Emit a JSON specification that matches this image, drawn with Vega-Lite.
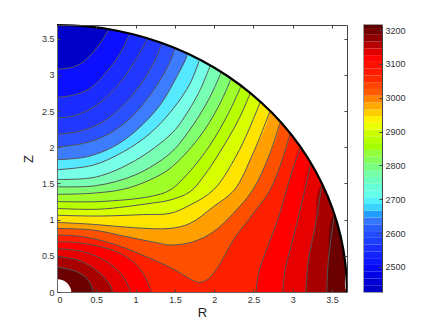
{"background":"white","padding":{"left":22,"top":20,"right":0,"bottom":0},"spacing":11,"config":{"view":{"stroke":null},"font":"Liberation Sans","axis":{"labelFont":"Liberation Sans","titleFont":"Liberation Sans","labelFontSize":9,"titleFontSize":13,"labelColor":"#333333","titleColor":"#222222","titleFontWeight":"normal","grid":false,"domainColor":"#666666","tickColor":"#444444","tickSize":-3,"labelPadding":6}},"datasets":{"regions":[
{"c":"c16","i":0,"R":0,"Z":0.787,"e":1},{"c":"c16","i":1,"R":0.335,"Z":0.764,"e":1},{"c":"c16","i":2,"R":0.759,"Z":0.649,"e":1},{"c":"c16","i":3,"R":1.184,"Z":0.465,"e":1},{"c":"c16","i":4,"R":1.438,"Z":0.341,"e":1},{"c":"c16","i":5,"R":1.608,"Z":0.235,"e":1},{"c":"c16","i":6,"R":1.735,"Z":0.157,"e":1},{"c":"c16","i":7,"R":1.82,"Z":0.134,"e":1},{"c":"c16","i":8,"R":1.905,"Z":0.166,"e":1},{"c":"c16","i":9,"R":1.99,"Z":0.258,"e":1},{"c":"c16","i":10,"R":2.075,"Z":0.39,"e":1},{"c":"c16","i":11,"R":2.244,"Z":0.718,"e":1},{"c":"c16","i":12,"R":2.499,"Z":1.087,"e":1},{"c":"c16","i":13,"R":2.711,"Z":1.409,"e":1},{"c":"c16","i":14,"R":2.864,"Z":1.823,"e":1},{"c":"c16","i":15,"R":2.966,"Z":2.192,"e":1},{"c":"c16","i":16,"R":2.966,"Z":3.9},{"c":"c16","i":17,"R":0,"Z":3.9},
{"c":"c15","i":0,"R":0,"Z":0.879,"e":1},{"c":"c15","i":1,"R":0.462,"Z":0.856,"e":1},{"c":"c15","i":2,"R":0.887,"Z":0.764,"e":1},{"c":"c15","i":3,"R":1.269,"Z":0.681,"e":1},{"c":"c15","i":4,"R":1.438,"Z":0.649,"e":1},{"c":"c15","i":5,"R":1.735,"Z":0.695,"e":1},{"c":"c15","i":6,"R":1.99,"Z":0.833,"e":1},{"c":"c15","i":7,"R":2.244,"Z":1.087,"e":1},{"c":"c15","i":8,"R":2.49,"Z":1.409,"e":1},{"c":"c15","i":9,"R":2.69,"Z":1.86,"e":1},{"c":"c15","i":10,"R":2.838,"Z":2.343,"e":1},{"c":"c15","i":11,"R":2.838,"Z":3.9},{"c":"c15","i":12,"R":0,"Z":3.9},
{"c":"c14","i":0,"R":0,"Z":0.962,"e":1},{"c":"c14","i":1,"R":0.462,"Z":0.935,"e":1},{"c":"c14","i":2,"R":0.972,"Z":0.889,"e":1},{"c":"c14","i":3,"R":1.438,"Z":0.879,"e":1},{"c":"c14","i":4,"R":1.693,"Z":0.948,"e":1},{"c":"c14","i":5,"R":1.99,"Z":1.179,"e":1},{"c":"c14","i":6,"R":2.255,"Z":1.409,"e":1},{"c":"c14","i":7,"R":2.5,"Z":1.93,"e":1},{"c":"c14","i":8,"R":2.707,"Z":2.491,"e":1},{"c":"c14","i":9,"R":2.707,"Z":3.9},{"c":"c14","i":10,"R":0,"Z":3.9},
{"c":"c13","i":0,"R":0,"Z":1.06,"e":1},{"c":"c13","i":1,"R":0.547,"Z":1.05,"e":1},{"c":"c13","i":2,"R":1.1,"Z":1.07,"e":1},{"c":"c13","i":3,"R":1.438,"Z":1.087,"e":1},{"c":"c13","i":4,"R":1.693,"Z":1.202,"e":1},{"c":"c13","i":5,"R":2.0,"Z":1.42,"e":1},{"c":"c13","i":6,"R":2.28,"Z":1.88,"e":1},{"c":"c13","i":7,"R":2.44,"Z":2.24,"e":1},{"c":"c13","i":8,"R":2.584,"Z":2.62,"e":1},{"c":"c13","i":9,"R":2.584,"Z":3.9},{"c":"c13","i":10,"R":0,"Z":3.9},
{"c":"c12","i":0,"R":0,"Z":1.155,"e":1},{"c":"c12","i":1,"R":0.547,"Z":1.145,"e":1},{"c":"c12","i":2,"R":1.184,"Z":1.225,"e":1},{"c":"c12","i":3,"R":1.438,"Z":1.271,"e":1},{"c":"c12","i":4,"R":1.693,"Z":1.386,"e":1},{"c":"c12","i":5,"R":1.88,"Z":1.62,"e":1},{"c":"c12","i":6,"R":2.075,"Z":1.938,"e":1},{"c":"c12","i":7,"R":2.308,"Z":2.376,"e":1},{"c":"c12","i":8,"R":2.457,"Z":2.744,"e":1},{"c":"c12","i":9,"R":2.457,"Z":3.9},{"c":"c12","i":10,"R":0,"Z":3.9},
{"c":"c11","i":0,"R":0,"Z":1.25,"e":1},{"c":"c11","i":1,"R":0.547,"Z":1.25,"e":1},{"c":"c11","i":2,"R":1.184,"Z":1.32,"e":1},{"c":"c11","i":3,"R":1.438,"Z":1.409,"e":1},{"c":"c11","i":4,"R":1.7,"Z":1.68,"e":1},{"c":"c11","i":5,"R":1.947,"Z":2.03,"e":1},{"c":"c11","i":6,"R":2.181,"Z":2.468,"e":1},{"c":"c11","i":7,"R":2.338,"Z":2.836,"e":1},{"c":"c11","i":8,"R":2.338,"Z":3.9},{"c":"c11","i":9,"R":0,"Z":3.9},
{"c":"c10","i":0,"R":0,"Z":1.35,"e":1},{"c":"c10","i":1,"R":0.42,"Z":1.363,"e":1},{"c":"c10","i":2,"R":0.844,"Z":1.42,"e":1},{"c":"c10","i":3,"R":1.184,"Z":1.55,"e":1},{"c":"c10","i":4,"R":1.438,"Z":1.708,"e":1},{"c":"c10","i":5,"R":1.799,"Z":2.122,"e":1},{"c":"c10","i":6,"R":2.053,"Z":2.56,"e":1},{"c":"c10","i":7,"R":2.21,"Z":2.937,"e":1},{"c":"c10","i":8,"R":2.21,"Z":3.9},{"c":"c10","i":9,"R":0,"Z":3.9},
{"c":"c9","i":0,"R":0,"Z":1.455,"e":1},{"c":"c9","i":1,"R":0.5,"Z":1.47,"e":1},{"c":"c9","i":2,"R":1.0,"Z":1.62,"e":1},{"c":"c9","i":3,"R":1.438,"Z":1.915,"e":1},{"c":"c9","i":4,"R":1.672,"Z":2.215,"e":1},{"c":"c9","i":5,"R":1.926,"Z":2.652,"e":1},{"c":"c9","i":6,"R":2.083,"Z":3.02,"e":1},{"c":"c9","i":7,"R":2.083,"Z":3.9},{"c":"c9","i":8,"R":0,"Z":3.9},
{"c":"c8","i":0,"R":0,"Z":1.556,"e":1},{"c":"c8","i":1,"R":0.5,"Z":1.59,"e":1},{"c":"c8","i":2,"R":1.0,"Z":1.82,"e":1},{"c":"c8","i":3,"R":1.438,"Z":2.169,"e":1},{"c":"c8","i":4,"R":1.566,"Z":2.33,"e":1},{"c":"c8","i":5,"R":1.799,"Z":2.744,"e":1},{"c":"c8","i":6,"R":1.947,"Z":3.122,"e":1},{"c":"c8","i":7,"R":1.947,"Z":3.9},{"c":"c8","i":8,"R":0,"Z":3.9},
{"c":"c7","i":0,"R":0,"Z":1.69,"e":1},{"c":"c7","i":1,"R":0.462,"Z":1.754,"e":1},{"c":"c7","i":2,"R":0.844,"Z":1.938,"e":1},{"c":"c7","i":3,"R":1.184,"Z":2.192,"e":1},{"c":"c7","i":4,"R":1.481,"Z":2.537,"e":1},{"c":"c7","i":5,"R":1.693,"Z":2.882,"e":1},{"c":"c7","i":6,"R":1.807,"Z":3.19,"e":1},{"c":"c7","i":7,"R":1.807,"Z":3.9},{"c":"c7","i":8,"R":0,"Z":3.9},
{"c":"c6","i":0,"R":0,"Z":1.828,"e":1},{"c":"c6","i":1,"R":0.378,"Z":1.869,"e":1},{"c":"c6","i":2,"R":0.717,"Z":2.007,"e":1},{"c":"c6","i":3,"R":1.014,"Z":2.238,"e":1},{"c":"c6","i":4,"R":1.311,"Z":2.583,"e":1},{"c":"c6","i":5,"R":1.523,"Z":2.974,"e":1},{"c":"c6","i":6,"R":1.659,"Z":3.274,"e":1},{"c":"c6","i":7,"R":1.659,"Z":3.9},{"c":"c6","i":8,"R":0,"Z":3.9},
{"c":"c5","i":0,"R":0,"Z":2.003,"e":1},{"c":"c5","i":1,"R":0.335,"Z":2.053,"e":1},{"c":"c5","i":2,"R":0.632,"Z":2.169,"e":1},{"c":"c5","i":3,"R":0.929,"Z":2.399,"e":1},{"c":"c5","i":4,"R":1.184,"Z":2.721,"e":1},{"c":"c5","i":5,"R":1.396,"Z":3.089,"e":1},{"c":"c5","i":6,"R":1.502,"Z":3.366,"e":1},{"c":"c5","i":7,"R":1.502,"Z":3.9},{"c":"c5","i":8,"R":0,"Z":3.9},
{"c":"c4","i":0,"R":0,"Z":2.178,"e":1},{"c":"c4","i":1,"R":0.293,"Z":2.224,"e":1},{"c":"c4","i":2,"R":0.547,"Z":2.33,"e":1},{"c":"c4","i":3,"R":0.802,"Z":2.537,"e":1},{"c":"c4","i":4,"R":1.056,"Z":2.859,"e":1},{"c":"c4","i":5,"R":1.226,"Z":3.158,"e":1},{"c":"c4","i":6,"R":1.336,"Z":3.435,"e":1},{"c":"c4","i":7,"R":1.336,"Z":3.9},{"c":"c4","i":8,"R":0,"Z":3.9},
{"c":"c3","i":0,"R":0,"Z":2.403,"e":1},{"c":"c3","i":1,"R":0.25,"Z":2.445,"e":1},{"c":"c3","i":2,"R":0.505,"Z":2.583,"e":1},{"c":"c3","i":3,"R":0.759,"Z":2.836,"e":1},{"c":"c3","i":4,"R":0.972,"Z":3.158,"e":1},{"c":"c3","i":5,"R":1.15,"Z":3.494,"e":1},{"c":"c3","i":6,"R":1.15,"Z":3.9},{"c":"c3","i":7,"R":0,"Z":3.9},
{"c":"c2","i":0,"R":0,"Z":2.689,"e":1},{"c":"c2","i":1,"R":0.208,"Z":2.721,"e":1},{"c":"c2","i":2,"R":0.42,"Z":2.813,"e":1},{"c":"c2","i":3,"R":0.632,"Z":3.043,"e":1},{"c":"c2","i":4,"R":0.802,"Z":3.297,"e":1},{"c":"c2","i":5,"R":0.92,"Z":3.559,"e":1},{"c":"c2","i":6,"R":0.92,"Z":3.9},{"c":"c2","i":7,"R":0,"Z":3.9},
{"c":"c1","i":0,"R":0,"Z":3.08,"e":1},{"c":"c1","i":1,"R":0.187,"Z":3.103,"e":1},{"c":"c1","i":2,"R":0.335,"Z":3.181,"e":1},{"c":"c1","i":3,"R":0.484,"Z":3.343,"e":1},{"c":"c1","i":4,"R":0.59,"Z":3.504,"e":1},{"c":"c1","i":5,"R":0.653,"Z":3.619,"e":1},{"c":"c1","i":6,"R":0.653,"Z":3.9},{"c":"c1","i":7,"R":0,"Z":3.9},
{"c":"h1","i":0,"R":0,"Z":0.695,"e":1},{"c":"h1","i":1,"R":0.335,"Z":0.672,"e":1},{"c":"h1","i":2,"R":0.759,"Z":0.557,"e":1},{"c":"h1","i":3,"R":1.014,"Z":0.373,"e":1},{"c":"h1","i":4,"R":1.141,"Z":0.166,"e":1},{"c":"h1","i":5,"R":1.196,"Z":0,"e":1},{"c":"h1","i":6,"R":0,"Z":0},
{"c":"h2","i":0,"R":0,"Z":0.6,"e":1},{"c":"h2","i":1,"R":0.335,"Z":0.557,"e":1},{"c":"h2","i":2,"R":0.632,"Z":0.419,"e":1},{"c":"h2","i":3,"R":0.844,"Z":0.212,"e":1},{"c":"h2","i":4,"R":0.935,"Z":0,"e":1},{"c":"h2","i":5,"R":0,"Z":0},
{"c":"h3","i":0,"R":0,"Z":0.49,"e":1},{"c":"h3","i":1,"R":0.293,"Z":0.433,"e":1},{"c":"h3","i":2,"R":0.547,"Z":0.258,"e":1},{"c":"h3","i":3,"R":0.675,"Z":0.097,"e":1},{"c":"h3","i":4,"R":0.704,"Z":0,"e":1},{"c":"h3","i":5,"R":0,"Z":0},
{"c":"h4","i":0,"R":0,"Z":0.345,"e":1},{"c":"h4","i":1,"R":0.25,"Z":0.281,"e":1},{"c":"h4","i":2,"R":0.399,"Z":0.166,"e":1},{"c":"h4","i":3,"R":0.462,"Z":0,"e":1},{"c":"h4","i":4,"R":0,"Z":0},
{"c":"r1","i":0,"R":2.533,"Z":0,"e":1},{"c":"r1","i":1,"R":2.563,"Z":0.258,"e":1},{"c":"r1","i":2,"R":2.68,"Z":0.626,"e":1},{"c":"r1","i":3,"R":2.81,"Z":1.0,"e":1},{"c":"r1","i":4,"R":2.92,"Z":1.409,"e":1},{"c":"r1","i":5,"R":3.0,"Z":1.7,"e":1},{"c":"r1","i":6,"R":3.1,"Z":2.0,"e":1},{"c":"r1","i":7,"R":3.9,"Z":2.0},{"c":"r1","i":8,"R":3.9,"Z":0},
{"c":"r2","i":0,"R":2.873,"Z":0,"e":1},{"c":"r2","i":1,"R":2.902,"Z":0.304,"e":1},{"c":"r2","i":2,"R":2.987,"Z":0.672,"e":1},{"c":"r2","i":3,"R":3.114,"Z":1.225,"e":1},{"c":"r2","i":4,"R":3.229,"Z":1.777,"e":1},{"c":"r2","i":5,"R":3.9,"Z":1.777},{"c":"r2","i":6,"R":3.9,"Z":0},
{"c":"r3","i":0,"R":3.165,"Z":0,"e":1},{"c":"r3","i":1,"R":3.199,"Z":0.442,"e":1},{"c":"r3","i":2,"R":3.284,"Z":0.902,"e":1},{"c":"r3","i":3,"R":3.369,"Z":1.478,"e":1},{"c":"r3","i":4,"R":3.9,"Z":1.478},{"c":"r3","i":5,"R":3.9,"Z":0},
{"c":"r4","i":0,"R":3.432,"Z":0,"e":1},{"c":"r4","i":1,"R":3.453,"Z":0.442,"e":1},{"c":"r4","i":2,"R":3.53,"Z":1.073,"e":1},{"c":"r4","i":3,"R":3.9,"Z":1.073},{"c":"r4","i":4,"R":3.9,"Z":0},
{"c":"edge","i":0,"R":0,"Z":3.69,"e":1},{"c":"edge","i":1,"R":0.386,"Z":3.67,"e":1},{"c":"edge","i":2,"R":0.767,"Z":3.61,"e":1},{"c":"edge","i":3,"R":1.14,"Z":3.51,"e":1},{"c":"edge","i":4,"R":1.5,"Z":3.371,"e":1},{"c":"edge","i":5,"R":1.845,"Z":3.196,"e":1},{"c":"edge","i":6,"R":2.169,"Z":2.985,"e":1},{"c":"edge","i":7,"R":2.469,"Z":2.742,"e":1},{"c":"edge","i":8,"R":2.742,"Z":2.469,"e":1},{"c":"edge","i":9,"R":2.985,"Z":2.169,"e":1},{"c":"edge","i":10,"R":3.196,"Z":1.845,"e":1},{"c":"edge","i":11,"R":3.371,"Z":1.5,"e":1},{"c":"edge","i":12,"R":3.51,"Z":1.14,"e":1},{"c":"edge","i":13,"R":3.61,"Z":0.767,"e":1},{"c":"edge","i":14,"R":3.67,"Z":0.386,"e":1},{"c":"edge","i":15,"R":3.69,"Z":0,"e":1},{"c":"edge","i":16,"R":3.9,"Z":0},{"c":"edge","i":17,"R":3.9,"Z":3.9},{"c":"edge","i":18,"R":0,"Z":3.9},
{"c":"hole","i":0,"R":0,"Z":0.18},{"c":"hole","i":1,"R":0.09,"Z":0.156},{"c":"hole","i":2,"R":0.14,"Z":0.11},{"c":"hole","i":3,"R":0.17,"Z":0.055},{"c":"hole","i":4,"R":0.178,"Z":0},{"c":"hole","i":5,"R":0,"Z":0}
],"bar":[{"v0":2426,"v1":2446},{"v0":2446,"v1":2466},{"v0":2466,"v1":2486},{"v0":2486,"v1":2506},{"v0":2506,"v1":2526},{"v0":2526,"v1":2546},{"v0":2546,"v1":2566},{"v0":2566,"v1":2586},{"v0":2586,"v1":2606},{"v0":2606,"v1":2626},{"v0":2626,"v1":2646},{"v0":2646,"v1":2666},{"v0":2666,"v1":2686},{"v0":2686,"v1":2706},{"v0":2706,"v1":2726},{"v0":2726,"v1":2746},{"v0":2746,"v1":2766},{"v0":2766,"v1":2786},{"v0":2786,"v1":2806},{"v0":2806,"v1":2826},{"v0":2826,"v1":2846},{"v0":2846,"v1":2866},{"v0":2866,"v1":2886},{"v0":2886,"v1":2906},{"v0":2906,"v1":2926},{"v0":2926,"v1":2946},{"v0":2946,"v1":2966},{"v0":2966,"v1":2986},{"v0":2986,"v1":3006},{"v0":3006,"v1":3026},{"v0":3026,"v1":3046},{"v0":3046,"v1":3066},{"v0":3066,"v1":3086},{"v0":3086,"v1":3106},{"v0":3106,"v1":3126},{"v0":3126,"v1":3146},{"v0":3146,"v1":3166},{"v0":3166,"v1":3186},{"v0":3186,"v1":3206},{"v0":3206,"v1":3215}]},
"hconcat":[{"width":290,"height":267,"view":{"fill":"#ff2000","stroke":null},"data":{"name":"regions"},"resolve":{"axis":{"x":"independent","y":"independent"}},"layer":[
{"mark":{"type":"line","interpolate":"catmull-rom","clip":true,"strokeWidth":0},"encoding":{"order":{"field":"i","type":"quantitative"},"x":{"field":"R","type":"quantitative","scale":{"domain":[0,3.69],"nice":false},"axis":{"zindex":1,"title":"R","values":[0,0.5,1,1.5,2,2.5,3,3.5],"titlePadding":2,"format":"~g"}},"y":{"field":"Z","type":"quantitative","scale":{"domain":[0,3.69],"nice":false},"axis":{"zindex":1,"title":"Z","values":[0,0.5,1,1.5,2,2.5,3,3.5],"titlePadding":6,"format":"~g"}},"fill":{"field":"c","type":"nominal","legend":null,"scale":{"domain":["c16","c15","c14","c13","c12","c11","c10","c9","c8","c7","c6","c5","c4","c3","c2","c1","h1","h2","h3","h4","r1","r2","r3","r4","edge","hole"],"range":["#ff5000","#ffa000","#ffe400","#d8ff00","#b8ff00","#a0ff28","#80ff70","#78ffb4","#78ffe8","#55e8ff","#3d7cff","#2a50ff","#2238ff","#1a2cff","#0c10ff","#0000c8","#ff0000","#e60000","#a80000","#6a0000","#ff0000","#e60000","#a80000","#6a0000","#ffffff","#ffffff"]}}}},
{"transform":[{"filter":"datum.e==1 && datum.c!='edge'"}],"mark":{"type":"line","interpolate":"catmull-rom","clip":true,"stroke":"#555555","strokeWidth":1},"encoding":{"order":{"field":"i","type":"quantitative"},"detail":{"field":"c"},"x":{"field":"R","type":"quantitative","axis":{"zindex":1,"orient":"top","labels":false,"title":null,"values":[0.5,1,1.5,2,2.5,3,3.5],"domainColor":"#444444"}},"y":{"field":"Z","type":"quantitative","axis":{"zindex":1,"orient":"right","labels":false,"title":null,"values":[0.5,1,1.5,2,2.5,3,3.5],"domainColor":"#444444"}}}},
{"transform":[{"filter":"datum.e==1 && datum.c=='edge'"}],"mark":{"type":"line","interpolate":"catmull-rom","stroke":"#000000","strokeWidth":2.2},"encoding":{"order":{"field":"i","type":"quantitative"},"x":{"field":"R","type":"quantitative","axis":null},"y":{"field":"Z","type":"quantitative","axis":null}}}
]},
{"width":18,"height":267,"data":{"name":"bar"},"view":{"stroke":"#808080","strokeWidth":1.5},"mark":{"type":"rect"},"encoding":{"y":{"field":"v0","type":"quantitative","scale":{"domain":[2426,3215],"nice":false},"axis":{"zindex":1,"orient":"right","title":null,"format":"d","values":[2500,2600,2700,2800,2900,3000,3100,3200],"domainColor":"#444444"}},"y2":{"field":"v1"},"fill":{"field":"v0","type":"quantitative","legend":null,"scale":{"domain":[2426,2460,2500,2550,2600,2640,2670,2700,2760,2800,2845,2890,2920,2935,2980,3000,3050,3110,3135,3155,3200,3215],"range":["#0000c8","#0000e0","#0a10ff","#1a30ff","#2a55ff","#4488ff","#55ddff","#66ffee","#78ffb0","#80ff60","#a0ff00","#d0ff00","#ffff00","#ffe000","#ff9000","#ff6000","#ff2000","#ff0000","#d00000","#a00000","#600000","#500000"]}}}}]}
